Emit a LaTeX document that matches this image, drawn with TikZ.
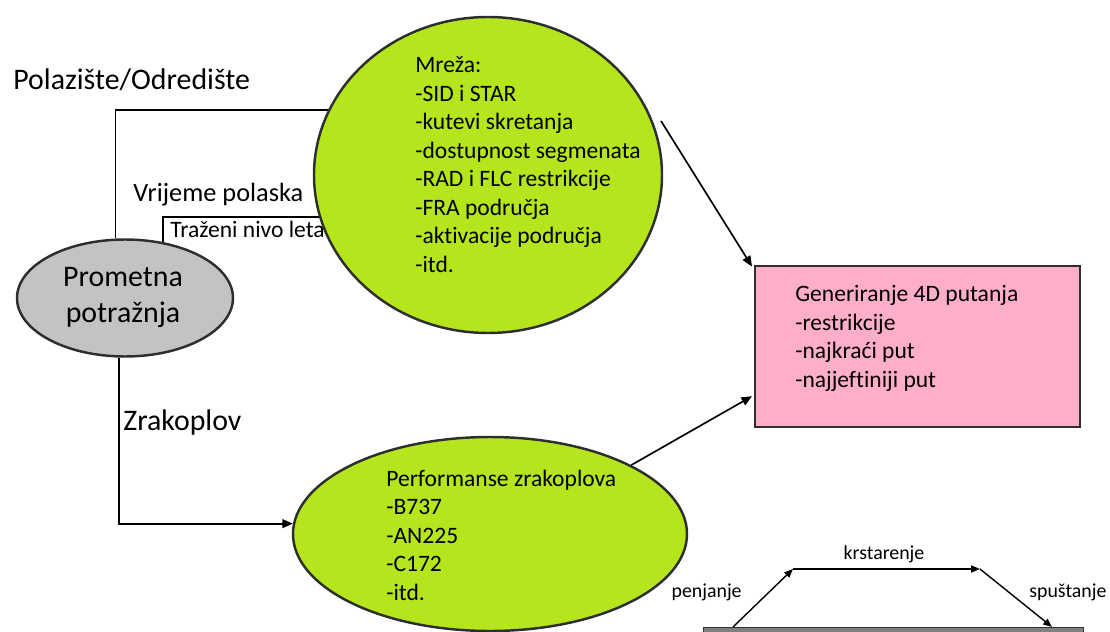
\documentclass[tikz,border=0pt]{standalone}
\usepackage{fontspec}
\setmainfont{Carlito}[Ligatures=NoCommon]
\usetikzlibrary{arrows.meta,shapes.geometric}
\definecolor{lime}{RGB}{181,230,29}
\definecolor{pinkbox}{RGB}{255,174,201}
\definecolor{grayell}{RGB}{195,195,195}
\definecolor{barg}{RGB}{128,128,128}
\begin{document}
\begin{tikzpicture}[x=0.02cm,y=-0.02cm,
  shapeline/.style={draw=black!82,line width=1.4pt,inner sep=0pt},
  ell/.style={shapeline,ellipse},
  conn/.style={line width=0.95pt,black},
  arr/.style={conn,-{Triangle[length=6pt,width=5pt]}},
  arrs/.style={line width=0.8pt,black,-{Triangle[length=5pt,width=4pt]}},
  big/.style={font=\fontsize{17}{20.4}\selectfont},
  mid/.style={font=\fontsize{15}{18}\selectfont},
  body/.style={font=\fontsize{13.4}{16.2}\selectfont, align=left, anchor=base west, inner sep=0pt},
  small/.style={font=\fontsize{11.3}{13.6}\selectfont, inner sep=0pt},
  lbl/.style={anchor=base west, inner sep=0pt}
]
\useasboundingbox (0,0) rectangle (1110,632);

% shapes
\node[ell, fill=grayell, minimum width=216*0.02cm, minimum height=117*0.02cm] (pd) at (125,298) {};
\node[ell, fill=lime, minimum width=348*0.02cm, minimum height=316*0.02cm] (net) at (488,175) {};
\node[ell, fill=lime, minimum width=394*0.02cm, minimum height=194*0.02cm] (perf) at (490,534) {};
\node[shapeline, fill=pinkbox, rectangle, minimum width=325*0.02cm, minimum height=161*0.02cm] (box) at (917.5,346.5) {};
\node[draw=black!80, fill=barg, line width=0.8pt, minimum width=380*0.02cm, minimum height=20*0.02cm, anchor=north west, inner sep=0pt] (bar) at (703,627) {};

% connectors
\draw[conn] (pd.99) |- (net.158);
\draw[conn] (pd.56) |- (net.194);
\draw[arr] (pd.264) |- (perf.177);
\coordinate (a1) at (661,121);
\draw[arr] (a1) -- ([xshift=-1pt,yshift=-1pt]box.north west);
\draw[arr] (perf.26) -- ([xshift=-1pt,yshift=0.64cm]box.south west);

% flight profile
\coordinate (p0) at (733,627);
\coordinate (p1) at (793,569);
\coordinate (p2) at (980,569);
\coordinate (p3) at (1052,627);
\draw[arrs] (p0) -- (p1);
\draw[arrs] (p1) -- (p2);
\draw[arrs] (p2) -- (p3);

% texts (multi-line nodes are anchored at the baseline of their last line)
\node[big, lbl] (tpo) at (13,90) {Polazište/Odredište};
\node[mid, lbl] (tvp) at (133,201) {Vrijeme polaska};
\node[body] (ttn) at (170,237) {Traženi nivo leta};
\node[big, lbl] (tzr) at (123,430) {Zrakoplov};
\node[big, align=center, anchor=base, inner sep=0pt] (tpd) at (123,322) {Prometna\\potražnja};
\node[body] (tnet) at (415,272) {Mreža:\\-SID i STAR\\-kutevi skretanja\\-dostupnost segmenata\\-RAD i FLC restrikcije\\-FRA područja\\-aktivacije područja\\-itd.};
\node[body] (tbox) at (795,387) {Generiranje 4D putanja\\-restrikcije\\-najkraći put\\-najjeftiniji put};
\node[body] (tperf) at (386,600) {Performanse zrakoplova\\-B737\\-AN225\\-C172\\-itd.};
\node[small, anchor=base] (tkr) at (884,559) {krstarenje};
\node[small, anchor=base east] (tpe) at (742,597) {penjanje};
\node[small, anchor=base west] (tsp) at (1029,597) {spuštanje};
\end{tikzpicture}
\end{document}
